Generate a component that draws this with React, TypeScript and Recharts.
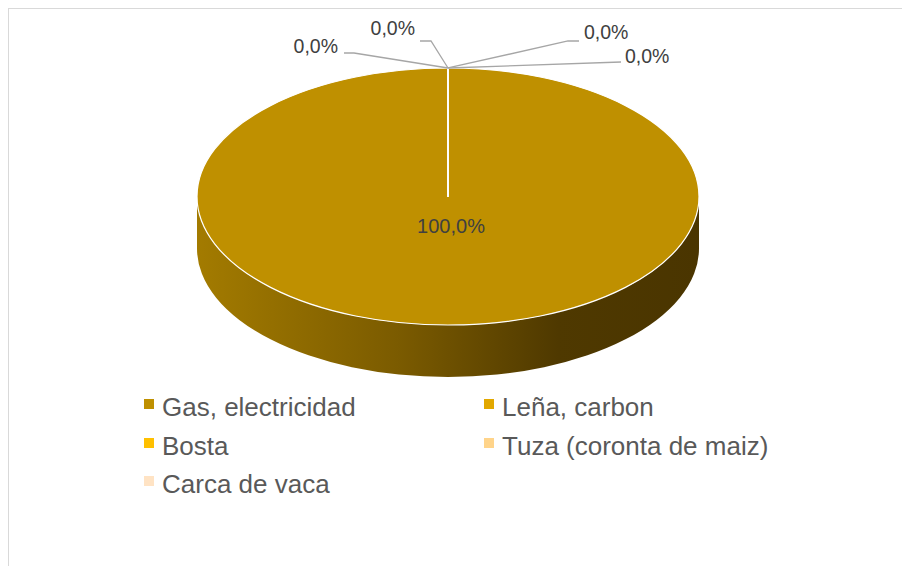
import { PieChart, Pie, Cell, Legend } from 'recharts';

const categories = ['Gas, electricidad', 'Leña, carbon', 'Bosta', 'Tuza (coronta de maiz)', 'Carca de vaca'];
const values = [100, 0, 0, 0, 0];
const colors = ['#BF9000', '#E2A800', '#FFC000', '#FFD48A', '#FFE3C4'];

const chartData = categories.map((name, i) => ({ name, value: values[i] }));

const FONT = '"Liberation Sans", Arial, sans-serif';
const TILT = 0.512;
const DEPTH = 52;
const RAD = Math.PI / 180;

// leader line bend / end and text position for the zero slices, relative to the top of the pie
const zeroLabelPos = [
  null,
  { bend: [-94, -15], end: [-104, -15], text: [-110, -22], anchor: 'end' },
  { bend: [-17, -27], end: [-28, -27], text: [-33, -40], anchor: 'end' },
  { bend: [120, -27], end: [131, -27], text: [136, -36], anchor: 'start' },
  { bend: [173, -6], end: [173, -6], text: [177, -12], anchor: 'start' },
];

function Slice3D(props: any) {
  const { cx, cy, outerRadius, startAngle, endAngle, fill } = props;
  const rx = outerRadius;
  const ry = outerRadius * TILT;
  const pt = (a: number, dy = 0) => `${cx + rx * Math.cos(a * RAD)},${cy - ry * Math.sin(a * RAD) + dy}`;

  const lo = Math.min(startAngle, endAngle);
  const hi = Math.max(startAngle, endAngle);
  const sides: string[] = [];
  for (let k = -2; k <= 2; k++) {
    const a1 = Math.max(lo, 180 + 360 * k);
    const a2 = Math.min(hi, 360 + 360 * k);
    if (a2 > a1) {
      sides.push(
        `M${pt(a1)} A${rx},${ry} 0 0 0 ${pt(a2)} L${pt(a2, DEPTH)} A${rx},${ry} 0 0 1 ${pt(a1, DEPTH)} Z`
      );
    }
  }

  const span = Math.abs(endAngle - startAngle);
  const sweep = endAngle < startAngle ? 1 : 0;
  let top: string;
  if (span >= 359.999) {
    const mid = startAngle + (endAngle - startAngle) / 2;
    top = `M${cx},${cy} L${pt(startAngle)} A${rx},${ry} 0 0 ${sweep} ${pt(mid)} A${rx},${ry} 0 0 ${sweep} ${pt(startAngle)} Z`;
  } else {
    top = `M${cx},${cy} L${pt(startAngle)} A${rx},${ry} 0 ${span > 180 ? 1 : 0} ${sweep} ${pt(endAngle)} Z`;
  }

  const gid = `side-${props.index ?? 0}`;
  return (
    <g>
      <defs>
        <linearGradient id={gid} gradientUnits="userSpaceOnUse" x1={cx - rx} y1={0} x2={cx + rx} y2={0}>
          <stop offset="0" stopColor="#A37B00" />
          <stop offset="0.4" stopColor="#7B5B00" />
          <stop offset="0.72" stopColor="#4F3900" />
          <stop offset="1" stopColor="#4A3500" />
        </linearGradient>
      </defs>
      {sides.map((d, i) => (
        <path key={i} d={d} fill={`url(#${gid})`} stroke="none" />
      ))}
      <path d={top} fill={fill} stroke="#FFFFFF" strokeWidth={1.2} strokeLinejoin="round" />
    </g>
  );
}

function renderLabel(props: any) {
  const { cx, cy, outerRadius, percent, index } = props;
  const text = `${(percent * 100).toFixed(1).replace('.', ',')}%`;
  if (index === 0) {
    return (
      <text x={cx + 3} y={cy + 29} textAnchor="middle" dominantBaseline="central" fill="#404040" fontSize={20} fontFamily={FONT}>
        {text}
      </text>
    );
  }
  const pos = zeroLabelPos[index];
  if (!pos) return null;
  const tx = cx;
  const ty = cy - outerRadius * TILT;
  return (
    <g>
      <polyline
        points={`${tx},${ty} ${tx + pos.bend[0]},${ty + pos.bend[1]} ${tx + pos.end[0]},${ty + pos.end[1]}`}
        fill="none"
        stroke="#A6A6A6"
        strokeWidth={1.3}
      />
      <text
        x={tx + pos.text[0]}
        y={ty + pos.text[1]}
        textAnchor={pos.anchor as any}
        dominantBaseline="central"
        fill="#404040"
        fontSize={19.5}
        fontFamily={FONT}
      >
        {text}
      </text>
    </g>
  );
}

function renderLegend(props: any) {
  const items = [...(props.payload || [])].sort(
    (a: any, b: any) => categories.indexOf(a.value) - categories.indexOf(b.value)
  );
  return (
    <div
      style={{
        display: 'grid',
        gridTemplateColumns: '340px 320px',
        fontFamily: FONT,
        fontSize: 26,
        color: '#595959',
      }}
    >
      {items.map((entry: any) => {
        const i = categories.indexOf(entry.value);
        return (
          <div key={entry.value} style={{ display: 'flex', alignItems: 'flex-start', height: 38.5, lineHeight: '38.5px' }}>
            <span style={{ width: 10, height: 10, background: colors[i], marginTop: 11, marginRight: 8, flex: 'none' }} />
            <span style={{ whiteSpace: 'nowrap' }}>{entry.value}</span>
          </div>
        );
      })}
    </div>
  );
}

export default function App() {
  return (
    <div style={{ position: 'fixed', left: 0, top: 0, width: 902, height: 566, overflow: 'hidden', background: '#FFFFFF' }}>
      <div
        style={{
          position: 'absolute',
          left: 8,
          top: 8,
          width: 900,
          height: 570,
          boxSizing: 'border-box',
          borderTop: '1px solid #D9D9D9',
          borderLeft: '1px solid #D9D9D9',
        }}
      >
        <PieChart width={860} height={540} margin={{ top: 0, right: 0, bottom: 0, left: 0 }}>
          <Pie
            data={chartData}
            dataKey="value"
            nameKey="name"
            cx={439}
            cy={187.5}
            outerRadius={251}
            startAngle={90}
            endAngle={-270}
            shape={Slice3D}
            activeShape={Slice3D}
            label={renderLabel}
            labelLine={false}
            isAnimationActive={false}
          >
            {chartData.map((d, i) => (
              <Cell key={d.name} fill={colors[i]} />
            ))}
          </Pie>
          <Legend
            layout="horizontal"
            verticalAlign="middle"
            align="center"
            content={renderLegend}
            wrapperStyle={{ left: 135, top: 379, width: 700 }}
          />
        </PieChart>
      </div>
    </div>
  );
}
